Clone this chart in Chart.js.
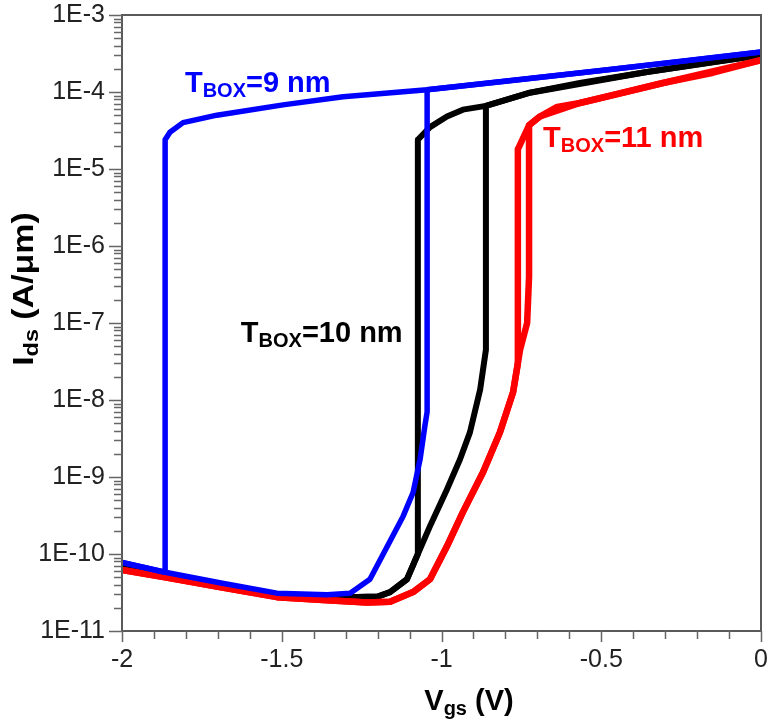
<!DOCTYPE html>
<html><head><meta charset="utf-8">
<script src="https://cdn.jsdelivr.net/npm/chart.js@4/dist/chart.umd.min.js"></script>
<style>html,body{margin:0;padding:0;background:#fff;}#wrap{width:768px;height:725px;position:relative;}</style>
</head><body><div id="wrap"><canvas id="c" width="768" height="725"></canvas></div>
<script>
// ---- data (Vgs in V, Ids in A/um) ----
// T_BOX = 9 nm
const vgs9Fwd = [-2.0, -1.865, -1.69, -1.515, -1.358, -1.286, -1.224, -1.12, -1.089, -1.067, -1.052, -1.045, -1.045, -0.8, -0.5, -0.25, 0.0];
const ids9Fwd = [7.8e-11, 5.8e-11, 4.2e-11, 3.1e-11, 2.95e-11, 3.1e-11, 4.7e-11, 3.1e-10, 6.3e-10, 1.7e-9, 4.6e-9, 7.0e-9, 1.07e-4, 1.38e-4, 1.9e-4, 2.5e-4, 3.3e-4];
const vgs9Rev = [0.0, -0.5, -1.045, -1.308, -1.496, -1.703, -1.809, -1.85, -1.865, -1.865, -2.0];
const ids9Rev = [3.3e-4, 1.9e-4, 1.07e-4, 8.7e-5, 6.8e-5, 5.0e-5, 4.0e-5, 3.0e-5, 2.4e-5, 5.8e-11, 7.8e-11];
// T_BOX = 10 nm
const vgs10Fwd = [-2.0, -1.865, -1.69, -1.515, -1.36, -1.2, -1.161, -1.108, -1.074, -1.036, -0.983, -0.942, -0.911, -0.879, -0.861, -0.861, -0.723, -0.567, -0.357, -0.15, 0.0];
const ids10Fwd = [7.0e-11, 5.3e-11, 3.9e-11, 2.9e-11, 2.7e-11, 2.8e-11, 3.2e-11, 4.7e-11, 1.0e-10, 2.3e-10, 6.9e-10, 1.7e-9, 3.8e-9, 1.37e-8, 4.5e-8, 6.6e-5, 9.8e-5, 1.31e-4, 1.82e-4, 2.45e-4, 3.0e-4];
const vgs10Rev = [0.0, -0.357, -0.723, -0.861, -0.933, -0.983, -1.036, -1.074, -1.074, -1.108, -1.161, -1.2, -1.36, -1.515, -1.69, -1.865, -2.0];
const ids10Rev = [3.0e-4, 1.82e-4, 9.8e-5, 6.6e-5, 5.9e-5, 4.8e-5, 3.5e-5, 2.4e-5, 1.0e-10, 4.7e-11, 3.2e-11, 2.8e-11, 2.7e-11, 2.9e-11, 3.9e-11, 5.3e-11, 7.0e-11];
// T_BOX = 11 nm
const vgs11Fwd = [-2.0, -1.865, -1.69, -1.515, -1.358, -1.233, -1.161, -1.089, -1.036, -0.983, -0.933, -0.870, -0.817, -0.776, -0.754, -0.732, -0.726, -0.726, -0.692, -0.638, -0.567, -0.463, -0.307, -0.15, 0.0];
const ids11Fwd = [6.2e-11, 5.0e-11, 3.7e-11, 2.75e-11, 2.5e-11, 2.35e-11, 2.4e-11, 3.2e-11, 4.7e-11, 1.26e-10, 3.5e-10, 1.15e-9, 3.8e-9, 1.26e-8, 4.5e-8, 1.0e-7, 4.0e-7, 3.7e-5, 4.8e-5, 6.4e-5, 7.2e-5, 9.1e-5, 1.31e-4, 1.78e-4, 2.6e-4];
const vgs11Rev = [0.0, -0.307, -0.567, -0.692, -0.726, -0.761, -0.761, -0.776, -0.817, -0.870, -0.933, -0.983, -1.036, -1.089, -1.161, -1.233, -1.358, -1.515, -1.69, -1.865, -2.0];
const ids11Rev = [2.6e-4, 1.31e-4, 7.2e-5, 4.8e-5, 3.7e-5, 1.8e-5, 3.0e-8, 1.26e-8, 3.8e-9, 1.15e-9, 3.5e-10, 1.26e-10, 4.7e-11, 3.2e-11, 2.4e-11, 2.35e-11, 2.5e-11, 2.75e-11, 3.7e-11, 5.0e-11, 6.2e-11];

// axis ticks
const xTickValues = [-2, -1.5, -1, -0.5, 0];
const yTickValues = [1e-11, 1e-10, 1e-9, 1e-8, 1e-7, 1e-6, 1e-5, 1e-4, 1e-3];
const yTickLabels = ['1E-11', '1E-10', '1E-9', '1E-8', '1E-7', '1E-6', '1E-5', '1E-4', '1E-3'];

// annotation texts
const seriesNames = ['9', '10', '11'];

const BLUE = '#0000ff', BLACK = '#000000', RED = '#ff0000';
const FONT = '"Liberation Sans", Arial, sans-serif';

function pts(xs, ys) { return xs.map((x, i) => ({x: x, y: ys[i]})); }
function ds(xs, ys, color, order, w) {
  return {data: pts(xs, ys), borderColor: color, backgroundColor: color, borderWidth: w,
    pointRadius: 0, tension: 0, showLine: true, fill: false, order: order,
    borderJoinStyle: 'round', borderCapStyle: 'round'};
}

function drawParts(ctx, x, y, parts) {
  let cx = x;
  for (const p of parts) {
    ctx.font = 'bold ' + p.size + 'px ' + FONT;
    ctx.fillText(p.t, cx, y + (p.dy || 0));
    cx += ctx.measureText(p.t).width;
  }
}
function partsWidth(ctx, parts) {
  let w = 0;
  for (const p of parts) { ctx.font = 'bold ' + p.size + 'px ' + FONT; w += ctx.measureText(p.t).width; }
  return w;
}

const decorPlugin = {
  id: 'decor',
  afterDatasetsDraw(chart) {
    const ctx = chart.ctx, xs = chart.scales.x, ys = chart.scales.y, a = chart.chartArea;
    ctx.save();
    // frame
    ctx.strokeStyle = '#5a5a5a'; ctx.lineWidth = 2;
    ctx.strokeRect(a.left, a.top, a.right - a.left, a.bottom - a.top);
    // ticks
    ctx.strokeStyle = '#666'; ctx.lineWidth = 1.5;
    ctx.beginPath();
    for (let k = 0; k <= 20; k++) {
      const v = -2 + k * 0.1;
      const px = Math.round(xs.getPixelForValue(v)) + 0.5;
      const len = (k % 5 === 0) ? 11 : 8;
      ctx.moveTo(px, a.bottom); ctx.lineTo(px, a.bottom + len);
    }
    for (let e = -11; e <= -3; e++) {
      for (let m = 1; m <= 9; m++) {
        const v = m * Math.pow(10, e);
        if (v > 1.0001e-3) break;
        const py = Math.round(ys.getPixelForValue(v)) + 0.5;
        const len = (m === 1) ? 13 : 8;
        ctx.moveTo(a.left, py); ctx.lineTo(a.left - len, py);
      }
    }
    ctx.stroke();
    // series labels
    ctx.textAlign = 'left'; ctx.textBaseline = 'alphabetic';
    const labels = [
      {name: seriesNames[0], color: BLUE, x: -1.803, y: 1.0e-4},
      {name: seriesNames[1], color: BLACK, x: -1.628, y: 5.6e-8},
      {name: seriesNames[2], color: RED, x: -0.682, y: 1.94e-5}
    ];
    for (const l of labels) {
      ctx.fillStyle = l.color;
      drawParts(ctx, xs.getPixelForValue(l.x), ys.getPixelForValue(l.y), [
        {t: 'T', size: 29}, {t: 'BOX', size: 20, dy: 5}, {t: '=' + l.name + ' nm', size: 29}
      ]);
    }
    // x title
    ctx.fillStyle = '#000';
    const xParts = [{t: 'V', size: 29}, {t: 'gs', size: 20, dy: 5}, {t: ' (V)', size: 29}];
    const xw = partsWidth(ctx, xParts);
    drawParts(ctx, 469 - xw / 2, 710, xParts);
    // y title
    const yParts = [{t: 'I', size: 29}, {t: 'ds', size: 20, dy: 5}, {t: ' (A/\u03bcm)', size: 29}];
    const yw = partsWidth(ctx, yParts);
    ctx.translate(33, 289);
    ctx.rotate(-Math.PI / 2);
    ctx.scale(1.17, 1);
    drawParts(ctx, -yw / 2, 0, yParts);
    ctx.restore();
  }
};

new Chart(document.getElementById('c'), {
  type: 'line',
  data: {
    datasets: [
      ds(vgs10Fwd, ids10Fwd, BLACK, 3, 6), ds(vgs10Rev, ids10Rev, BLACK, 3, 6),
      ds(vgs11Fwd, ids11Fwd, RED, 2, 6.5), ds(vgs11Rev, ids11Rev, RED, 2, 6.5),
      ds(vgs9Fwd, ids9Fwd, BLUE, 1, 5.5), ds(vgs9Rev, ids9Rev, BLUE, 1, 5.5)
    ]
  },
  options: {
    responsive: false, animation: false, devicePixelRatio: 1,
    layout: {padding: {top: 15, right: 7, left: 0, bottom: 0}},
    plugins: {legend: {display: false}, tooltip: {enabled: false}, title: {display: false}},
    scales: {
      x: {
        type: 'linear', min: -2, max: 0, position: 'bottom',
        afterBuildTicks: s => { s.ticks = xTickValues.map(v => ({value: v})); },
        afterFit: s => { s.height = 94; s.paddingLeft = 0; s.paddingRight = 0; },
        grid: {display: false, drawTicks: true, tickLength: 10},
        border: {display: false},
        ticks: {font: {family: FONT, size: 25}, color: '#222', padding: 4, maxRotation: 0,
          callback: v => String(v)}
      },
      y: {
        type: 'logarithmic', min: 1e-11, max: 1e-3, position: 'left',
        afterBuildTicks: s => { s.ticks = yTickValues.map(v => ({value: v})); },
        afterFit: s => { s.width = 122; s.paddingTop = 0; s.paddingBottom = 0; },
        grid: {display: false, drawTicks: true, tickLength: 12},
        border: {display: false},
        ticks: {font: {family: FONT, size: 25}, color: '#222', padding: 5,
          callback: (v) => { const i = yTickValues.findIndex(t => Math.abs(t - v) / t < 1e-6); return i >= 0 ? yTickLabels[i] : ''; }}
      }
    }
  },
  plugins: [decorPlugin]
});
</script></body></html>
